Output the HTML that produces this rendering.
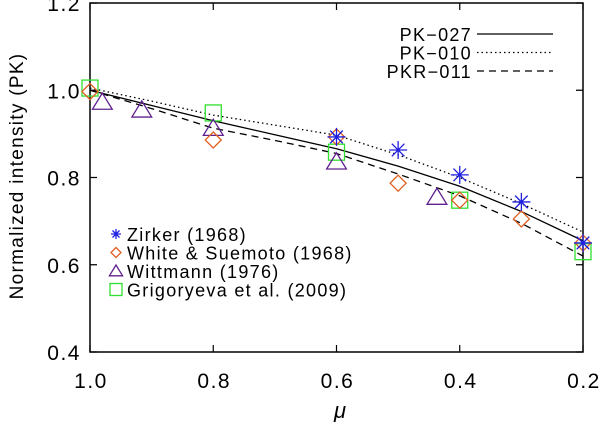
<!DOCTYPE html>
<html><head><meta charset="utf-8"><style>
body{margin:0;background:#fff}
svg text{font-family:"Liberation Sans",sans-serif;fill:#000}
</style></head><body>
<svg id="c" width="600" height="426" viewBox="0 0 600 426">
<g id="g"></g>
</svg>
<script>
const xTicks=[1.0,0.8,0.6,0.4,0.2];
const yTicks=[0.4,0.6,0.8,1.0,1.2];
const lineMu=[1.0,0.9,0.8,0.7,0.6,0.5,0.4,0.3,0.2];
const pk027=[1.0,0.965,0.93,0.898,0.866,0.826,0.78,0.722,0.655];
const pk010=[1.005,0.975,0.943,0.92,0.897,0.852,0.8,0.74,0.675];
const pkr011=[1.0,0.958,0.913,0.885,0.855,0.808,0.758,0.695,0.62];
const zirkerMu=[0.6,0.5,0.4,0.3,0.2];
const zirkerI=[0.893,0.863,0.806,0.744,0.65];
const whiteMu=[1.0,0.8,0.6,0.5,0.4,0.3,0.2];
const whiteI=[0.997,0.886,0.893,0.787,0.748,0.705,0.65];
const wittMu=[0.98,0.916,0.8,0.6,0.437];
const wittI=[0.973,0.955,0.913,0.836,0.755];
const grigMu=[1.0,0.8,0.6,0.4,0.2];
const grigI=[1.005,0.948,0.858,0.748,0.63];

const L=90,R=583,T=3,B=352;
const X=m=>L+(1.0-m)/0.8*(R-L);
const Y=v=>B-(v-0.4)/0.8*(B-T);
const g=document.getElementById('g');
const NS='http://www.w3.org/2000/svg';
function el(t,a,p){const e=document.createElementNS(NS,t);for(const k in a)e.setAttribute(k,a[k]);(p||g).appendChild(e);return e;}

let e=el('rect',{x:L,y:T,width:R-L,height:B-T,fill:'none',stroke:'#000','stroke-width':1.5});


xTicks.forEach(t=>{
 const x=X(t);
 let k=el('path',{d:`M${x},${B}v-7M${x},${T}v7`,stroke:'#000','stroke-width':1.2});
 
 
 let s=el('text',{x:x+1,y:388,'text-anchor':'middle','font-size':21,'letter-spacing':1.5});
 s.textContent=t.toFixed(1);
 
 
});
yTicks.forEach(t=>{
 const y=Y(t);
 let k=el('path',{d:`M${L},${y}h7M${R},${y}h-7`,stroke:'#000','stroke-width':1.2});
 
 
 let s=el('text',{x:L-9,y:y+8,'text-anchor':'end','font-size':21,'letter-spacing':1.5});
 s.textContent=t.toFixed(1);
 
 
});
let xt=el('text',{x:340,y:418,'text-anchor':'middle','font-size':22,'font-style':'italic','font-family':'Liberation Serif,serif'});
xt.textContent='μ';


let yt=el('text',{x:0,y:0,'text-anchor':'middle','font-size':19,'letter-spacing':1.3,transform:'translate(23,176) rotate(-90)'});
yt.textContent='Normalized intensity (PK)';



function line(vals,dash,name){
 const d=lineMu.map((m,i)=>(i?'L':'M')+X(m)+','+Y(vals[i])).join('');
 const p=el('path',{d:d,fill:'none',stroke:'#000','stroke-width':1.3,'stroke-dasharray':dash,'stroke-linejoin':'round'});
 
 
}
line(pk027,'none','line-pk-027');
line(pk010,'1.5 3','line-pk-010');
line(pkr011,'7 5','line-pkr-011');

function star(x,y,r,par){return el('path',{d:`M${x-r},${y}h${2*r}M${x},${y-r}v${2*r}M${x-r*0.7},${y-r*0.7}l${1.4*r},${1.4*r}M${x-r*0.7},${y+r*0.7}l${1.4*r},${-1.4*r}`,stroke:'#2020e0','stroke-width':1.3,fill:'none'},par);}
function diamond(x,y,r,par){return el('path',{d:`M${x},${y-r}L${x+r},${y}L${x},${y+r}L${x-r},${y}Z`,stroke:'#e06020','stroke-width':1.3,fill:'none'},par);}
function tri(x,y,r,par){return el('path',{d:`M${x},${y-r}L${x+r*1.1},${y+r*0.8}L${x-r*1.1},${y+r*0.8}Z`,stroke:'#602090','stroke-width':1.3,fill:'none'},par);}
function sq(x,y,r,par){return el('rect',{x:x-r,y:y-r,width:2*r,height:2*r,stroke:'#30e030','stroke-width':1.3,fill:'none'},par);}

grigMu.forEach((m,i)=>{const s=sq(X(m),Y(grigI[i]),8);
 
 });
wittMu.forEach((m,i)=>{const s=tri(X(m),Y(wittI[i]),9);
 
 });
whiteMu.forEach((m,i)=>{const s=diamond(X(m),Y(whiteI[i]),8);
 
 });
zirkerMu.forEach((m,i)=>{const s=star(X(m),Y(zirkerI[i]),9);
 
 });

const lg=el('g',{});


const names=['Zirker (1968)','White & Suemoto (1968)','Wittmann (1976)','Grigoryeva et al. (2009)'];
const fns=[star,diamond,tri,sq];
const rs=[5,5,6,6];
names.forEach((n,i)=>{
 const y=234+i*18.5;
 fns[i](116,y,rs[i],lg);
 const t=el('text',{x:127,y:y+7,'font-size':18,'letter-spacing':1.3},lg);
 t.textContent=n;
 
 
});
const ll=el('g',{});


const lnames=['PK−027','PK−010','PKR−011'];
const ldash=['none','1.5 3','7 5'];
lnames.forEach((n,i)=>{
 const y=34+i*18.5;
 const t=el('text',{x:472,y:y+7,'text-anchor':'end','font-size':18,'letter-spacing':1.3},ll);
 t.textContent=n;
 
 
 el('path',{d:`M477,${y}H553`,stroke:'#000','stroke-width':1.3,'stroke-dasharray':ldash[i]},ll);
});
</script>
</body></html>
